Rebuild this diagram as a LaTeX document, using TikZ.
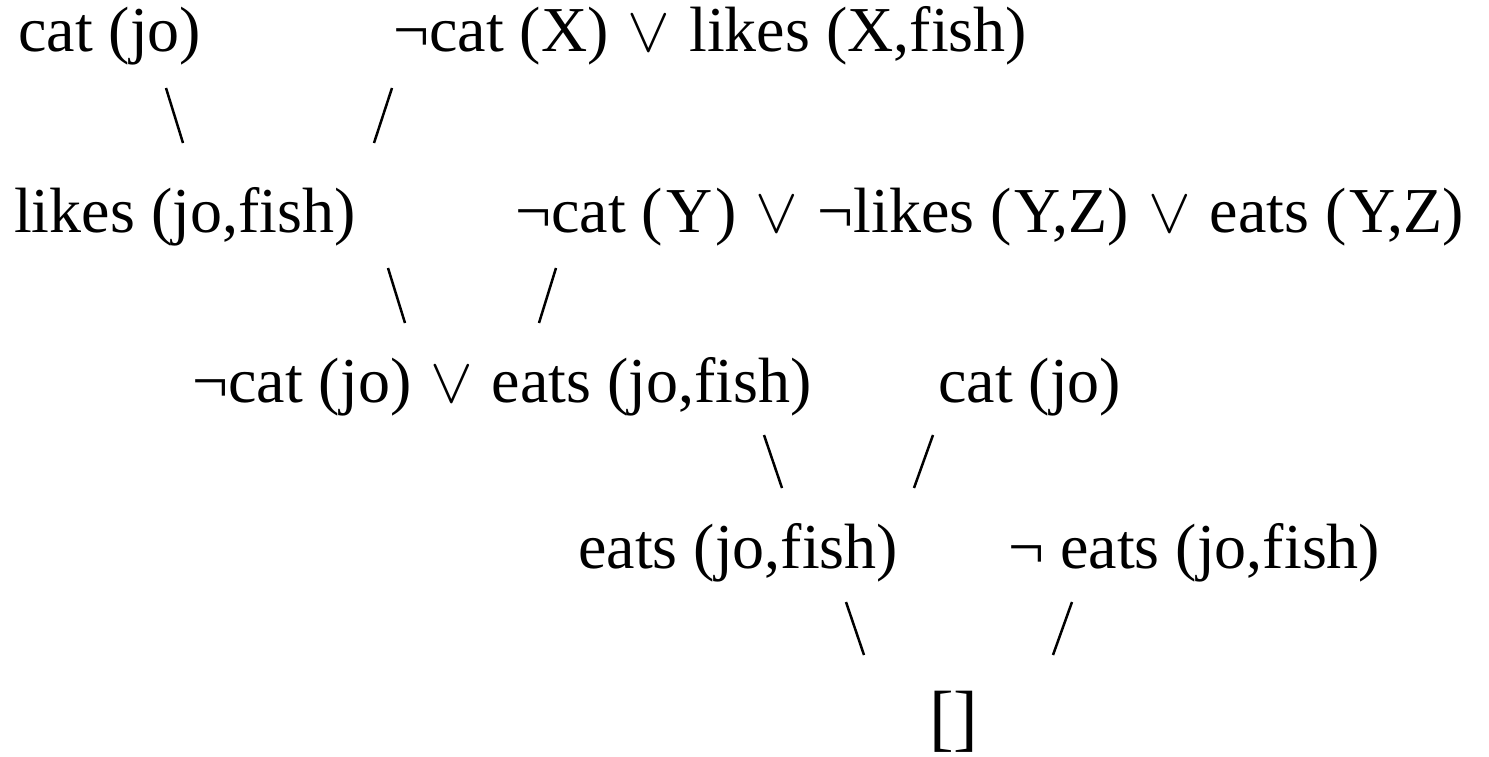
\RequirePackage{fix-cm}
\documentclass[tikz,border=0pt]{standalone}
\usepackage{fontspec}
\setmainfont{Liberation Serif}
\newcommand\orv{\hspace{3pt}\ensuremath{\vee}\hspace{3pt}}
\begin{document}
\begin{tikzpicture}[x=1pt,y=-1pt,
  lbl/.style={anchor=base west, inner sep=0pt, font=\fontsize{64}{70}\selectfont},
  conn/.style={line width=2.5pt}]
\useasboundingbox[fill=white] (0,0) rectangle (1489,757);
% row 1
\node[lbl] (a1) at (18,52) {cat (jo)};
\node[lbl] (a2) at (393,52) {¬cat (X) \orv{} likes (X,fish)};
% row 2
\node[lbl] (b1) at (14,232) {likes (jo,fish)};
\node[lbl] (b2) at (515,232) {¬cat (\kern3pt Y\kern3pt) \orv{} ¬likes (\kern3pt Y,Z) \orv{} eats (\kern3pt Y,Z)};
% row 3
\node[lbl] (c1) at (192,402) {¬cat (jo) \orv{} eats (jo,fish)};
\node[lbl] (c2) at (938,402) {cat (jo)};
% row 4
\node[lbl] (d1) at (578,568) {eats (jo,fish)};
\node[lbl] (d2) at (1008,568) {¬ eats (jo,fish)};
% row 5
\node[lbl, font=\fontsize{74}{78}\selectfont] (e1) at (929,742) {[]};
% connectors
\coordinate (s1at) at (166,88);  \coordinate (s1ab) at (183,143);
\coordinate (s1bt) at (392,88);  \coordinate (s1bb) at (374,143);
\coordinate (s2at) at (388,268); \coordinate (s2ab) at (405,323);
\coordinate (s2bt) at (556,268); \coordinate (s2bb) at (539,323);
\coordinate (s3at) at (764,435); \coordinate (s3ab) at (782,488);
\coordinate (s3bt) at (933,435); \coordinate (s3bb) at (914,488);
\coordinate (s4at) at (846,602); \coordinate (s4ab) at (864,655);
\coordinate (s4bt) at (1072,602); \coordinate (s4bb) at (1053,655);
\draw[conn] (s1at) -- (s1ab);
\draw[conn] (s1bt) -- (s1bb);
\draw[conn] (s2at) -- (s2ab);
\draw[conn] (s2bt) -- (s2bb);
\draw[conn] (s3at) -- (s3ab);
\draw[conn] (s3bt) -- (s3bb);
\draw[conn] (s4at) -- (s4ab);
\draw[conn] (s4bt) -- (s4bb);
\end{tikzpicture}
\end{document}
